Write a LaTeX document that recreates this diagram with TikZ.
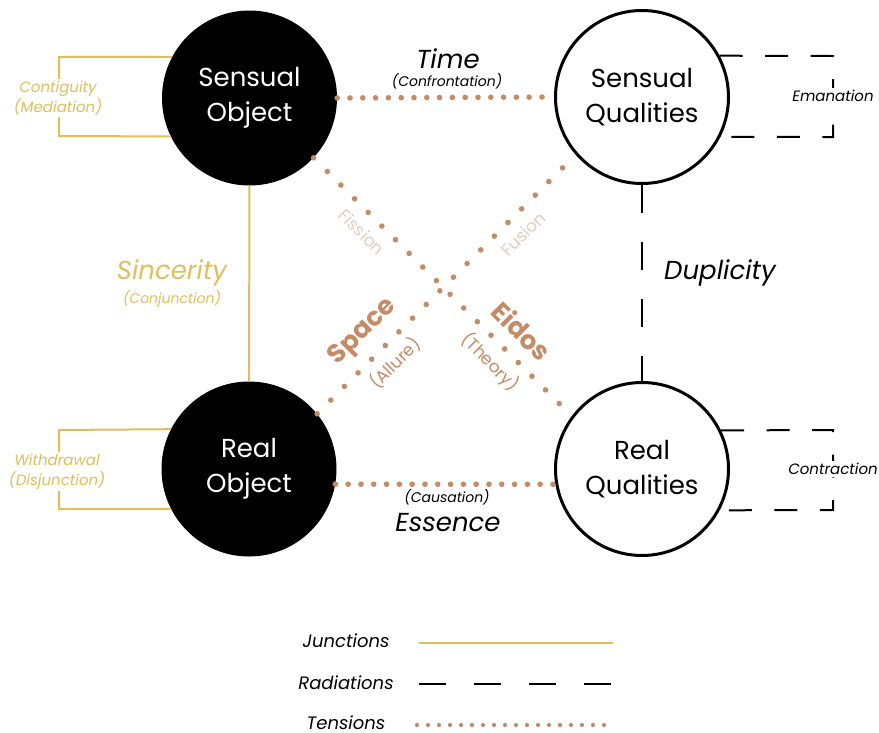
\documentclass[tikz,border=0pt]{standalone}
\usepackage{fontspec}
\setmainfont{Poppins}
\definecolor{gold}{RGB}{224,190,92}
\definecolor{tbrown}{RGB}{196,139,103}
\definecolor{lbrown}{RGB}{230,204,188}
\begin{document}
\begin{tikzpicture}[x=1pt,y=-1pt,
  objnode/.style={circle,fill=black,minimum size=175pt,inner sep=0pt,text=white,align=center,font=\fontsize{26}{35}\selectfont},
  qualnode/.style={circle,draw=black,line width=3pt,fill=white,minimum size=173pt,inner sep=0pt,align=center,font=\fontsize{26}{35}\selectfont},
  junctionline/.style={draw=gold,line width=2pt},
  radiationline/.style={draw=black,line width=2pt,dash pattern=on 28pt off 29pt},
  bracketdash/.style={draw=black,line width=2pt,dash pattern=on 23pt off 22.5pt},
  tensionline/.style={draw=tbrown,line width=5.6pt,line cap=round,dash pattern=on 0pt off 12.8pt},
  dtensionline/.style={draw=tbrown,line width=5.6pt,line cap=round,dash pattern=on 0pt off 19.3pt},
  ltensionline/.style={draw=tbrown,line width=4.2pt,line cap=round,dash pattern=on 0pt off 11pt},
  bigit/.style={inner sep=0pt,font=\itshape\fontsize{26}{30}\selectfont},
  smallit/.style={inner sep=0pt,font=\itshape\fontsize{14}{16}\selectfont},
  sidelbl/.style={fill=white,inner sep=2pt,align=center,font=\itshape\fontsize{15}{20}\selectfont},
  diaglbl/.style={inner sep=0pt,font=\fontsize{17}{20}\selectfont},
  diagbold/.style={inner sep=0pt,text=tbrown,font=\bfseries\fontsize{26}{28}\selectfont},
  legendlbl/.style={inner sep=0pt,font=\itshape\fontsize{18}{20}\selectfont}
]
\fill[white] (0,0) rectangle (879,732);
\useasboundingbox (0,0) rectangle (879,732);

% circles
\node[objnode] (SO) at (249.5,98) {Sensual\\Object};
\node[objnode] (RO) at (249,469) {Real\\Object};
\node[qualnode] (SQ) at (642,97) {Sensual\\Qualities};
\node[qualnode] (RQ) at (642,469) {Real\\Qualities};

% junctions
\draw[junctionline] (SO.south) -- (RO.north);
\coordinate (cg1) at (59,57);
\coordinate (cg2) at (59,136);
\draw[junctionline] (SO.152) -- (cg1) -- (cg2) -- (SO.206);
\coordinate (wd1) at (59,430);
\coordinate (wd2) at (59,509);
\draw[junctionline] (RO.153.5) -- (wd1) -- (wd2) -- (RO.207);

% radiations
\draw[radiationline] (SQ.south) -- (RQ.north);
\coordinate (em1) at (833,56);
\coordinate (em2) at (833,137);
\draw[bracketdash] (SQ.28) -- (em1) -- (em2) -- (SQ.-27.5);
\coordinate (ct1) at (833,430);
\coordinate (ct2) at (833,510);
\draw[bracketdash] (RQ.26.5) -- (ct1) -- (ct2) -- (RQ.-28);

% tensions
\draw[tensionline] (SO.east) -- (SQ.west);
\draw[tensionline] (RO.-10.6) -- (RQ.190.6);
\draw[dtensionline] (SO.-43) -- (RQ.143);
\draw[dtensionline] (RO.39) -- (SQ.221);

% side labels
\node[sidelbl,text=gold] (contig) at (58,98) {Contiguity\\(Mediation)};
\node[sidelbl,text=gold] (withd) at (57,471.5) {Withdrawal\\(Disjunction)};
\node[sidelbl] (eman) at (833,96) {Emanation};
\node[sidelbl] (contr) at (833,469) {Contraction};

% main labels
\node[bigit] (time) at (448,59) {Time};
\node[smallit] (confr) at (447,81) {(Confrontation)};
\node[smallit] (caus) at (447,497) {(Causation)};
\node[bigit] (ess) at (448,523) {Essence};
\node[bigit,text=gold] (sinc) at (172,273) {Sincerity};
\node[smallit,text=gold] (conj) at (172,299) {(Conjunction)};
\node[bigit] (dupl) at (720,273) {Duplicity};

% diagonal labels
\node[diaglbl,text=lbrown,rotate=-45] (fiss) at (362,232) {Fission};
\node[diaglbl,text=lbrown,rotate=45] (fus) at (523,234) {Fusion};
\node[diagbold,rotate=45] (space) at (363,332) {Space};
\node[diaglbl,text=tbrown,rotate=45] (allure) at (395,363) {(Allure)};
\node[diagbold,rotate=-45] (eidos) at (522,331) {Eidos};
\node[diaglbl,text=tbrown,rotate=-45] (theory) at (490,362) {(Theory)};

% legend
\node[legendlbl] (lgj) at (346,641) {Junctions};
\node[legendlbl] (lgr) at (346,683) {Radiations};
\node[legendlbl] (lgt) at (346,723) {Tensions};
\coordinate (lj1) at (419,643);
\coordinate (lj2) at (613,643);
\coordinate (lr1) at (419,684);
\coordinate (lr2) at (613,684);
\coordinate (lt1) at (417,725);
\coordinate (lt2) at (615,725);
\draw[junctionline] (lj1) -- (lj2);
\draw[draw=black,line width=2pt,dash pattern=on 27pt off 28pt] (lr1) -- (lr2);
\draw[ltensionline] (lt1) -- (lt2);
\end{tikzpicture}
\end{document}
